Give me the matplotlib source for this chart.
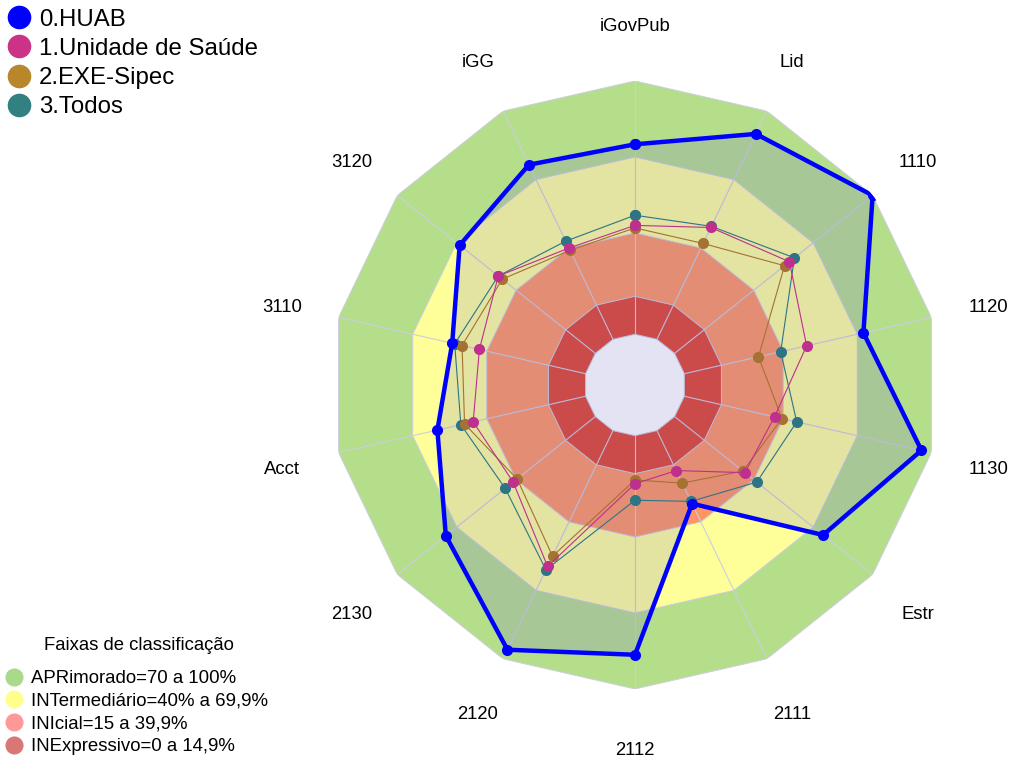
import numpy as np
import matplotlib
matplotlib.use('Agg')
import matplotlib.pyplot as plt
from matplotlib.lines import Line2D
from matplotlib.transforms import offset_copy

plt.rcParams['font.family'] = ['Liberation Sans', 'DejaVu Sans']

# ---------------- data ----------------
axis_labels = ['iGovPub', 'Lid', '1110', '1120', '1130', 'Estr', '2111',
               '2112', '2120', '2130', 'Acct', '3110', '3120', 'iGG']
series_names = ['0.HUAB', '1.Unidade de Saúde', '2.EXE-Sipec', '3.Todos']
huab    = [75.0, 90.0, 100.0, 72.5, 96.0, 75.0, 32.0, 86.5, 96.0, 75.5, 60.0, 54.0, 68.5, 76.5]
unidade = [43.0, 49.0, 58.0, 49.5, 36.5, 35.5, 17.5, 19.0, 59.5, 41.5, 45.5, 43.0, 49.0, 40.0]
exe     = [42.0, 42.0, 55.5, 30.0, 39.5, 34.5, 23.0, 17.5, 55.0, 39.5, 49.0, 50.0, 47.0, 39.0]
todos   = [47.0, 49.5, 60.5, 39.0, 45.5, 41.5, 31.0, 25.5, 61.0, 45.5, 50.5, 53.0, 49.0, 43.0]

band_title = 'Faixas de classificação'
band_names = ['APRimorado=70 a 100%', 'INTermediário=40% a 69,9%',
              'INIcial=15 a 39,9%', 'INExpressivo=0 a 14,9%']
band_upper = [100, 70, 40, 15]
hole_level = 0
r_min = -20
label_r = 123

# ---------------- style ----------------
band_colors = ['#B4DE8A', '#FFFF99', '#FF9560', '#E2422D']
band_legend_colors = ['#A9D98A', '#FFFF8C', '#FF9999', '#D97777']
hole_color = '#FFFFFF'
edge_col = '#CDCDE0'
series_colors = ['#0000FF', '#BE2F8E', '#A47232', '#2D7585']
legend_colors = ['#0000FF', '#CC3388', '#B8862B', '#338080']

fig = plt.figure(figsize=(10.14, 7.63), dpi=100)
ax = fig.add_axes([0.3264, 0.097, 0.5996, 0.7969], projection='polar')
ax.set_theta_zero_location('N')
ax.set_theta_direction(-1)
ax.set_ylim(r_min, 100)
ax.set_axis_off()

n = len(axis_labels)
theta = np.arange(n) * 2 * np.pi / n
tc = np.concatenate([theta, theta[:1]])

def closed(v):
    v = list(v)
    return v + v[:1]

for top, col in zip(band_upper, band_colors):
    ax.fill(tc, [top] * (n + 1), facecolor=col, edgecolor=edge_col, lw=0.7, zorder=1)
ax.fill(tc, [hole_level] * (n + 1), facecolor=hole_color, edgecolor=edge_col, lw=0.7, zorder=1)

for t in theta:
    ax.plot([t, t], [hole_level, band_upper[0]], color=edge_col, lw=0.8, zorder=2)

# HUAB translucent fill
ax.fill(tc, closed(huab), facecolor='#7373C8', alpha=0.2, edgecolor='none', zorder=3)

# inner series
for vals, col, z in [(todos, series_colors[3], 4), (exe, series_colors[2], 5),
                     (unidade, series_colors[1], 6)]:
    ax.plot(tc, closed(vals), color=col, lw=0.8, marker='o', markersize=8,
            markeredgewidth=0, zorder=z)

ax.plot(tc, closed(huab), color=series_colors[0], lw=3.2, marker='o', markersize=8,
        markeredgewidth=0, zorder=8)

lab_tr = offset_copy(ax.transData, fig=fig, x=0, y=-3.5, units='dots')
for t, lab in zip(theta, axis_labels):
    ax.text(t, label_r, lab, ha='center', va='center', fontsize=13.3,
            clip_on=False, transform=lab_tr)

# legends
h1 = [Line2D([], [], ls='', marker='o', markersize=16, markerfacecolor=c,
             markeredgecolor=c) for c in legend_colors]
fig.legend(h1, series_names, loc='upper left', bbox_to_anchor=(0.0, 1.0 - 5 / 763),
           frameon=False, fontsize=17.3, handletextpad=0.18, labelspacing=0.30,
           borderpad=0.05, borderaxespad=0.1, handlelength=1.3)

h2 = [Line2D([], [], ls='', marker='o', markersize=12, markerfacecolor=c,
             markeredgecolor=c) for c in band_legend_colors]
fig.legend(h2, band_names, loc='lower left', bbox_to_anchor=(0.0, 2 / 763),
           frameon=False, fontsize=13.4, handletextpad=0.45, labelspacing=0.31,
           borderpad=0.2, borderaxespad=0.1, handlelength=0.9)
fig.text(139 / 1014, 1 - 645 / 763, band_title, ha='center', va='center',
         fontsize=13.3)

fig.savefig('out.png', dpi=100)
